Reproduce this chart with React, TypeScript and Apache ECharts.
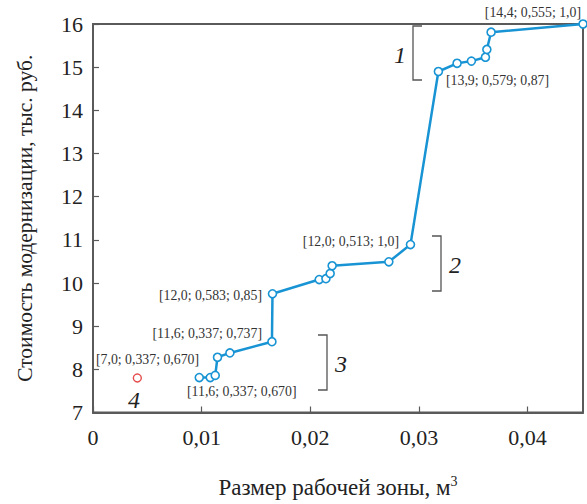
import React, { useEffect, useRef } from "react";
import * as echarts from "echarts";

const sizeValues = [0.00978, 0.01079, 0.01125, 0.01146, 0.0126, 0.01647, 0.01652, 0.02082, 0.02144, 0.02183, 0.02201, 0.02723, 0.02922, 0.03179, 0.03351, 0.03483, 0.03612, 0.03625, 0.03664, 0.0451];
const costValues = [7.81, 7.81, 7.86, 8.28, 8.38, 8.64, 9.75, 10.08, 10.1, 10.22, 10.4, 10.49, 10.89, 14.9, 15.09, 15.14, 15.23, 15.41, 15.81, 16.0];
const outlierPoint = [0.00408, 7.8];
const xTicks = [0, 0.01, 0.02, 0.03, 0.04];
const yTicks = [7, 8, 9, 10, 11, 12, 13, 14, 15, 16];

const FONT = "'Liberation Serif', 'Times New Roman', serif";
const AXIS_COLOR = "#5a5a5a";
const BLUE = "#1894d4";

export default function App() {
  const ref = useRef<HTMLDivElement>(null);
  useEffect(() => {
    if (!ref.current) return;
    const chart = echarts.init(ref.current, undefined, { renderer: "svg" });
    const txt = (text: string, x: number, y: number, opts: any = {}) => ({
      type: "text",
      x,
      y,
      style: {
        text,
        fontFamily: FONT,
        fontSize: 13.8,
        fill: "#333",
        textAlign: "left",
        textVerticalAlign: "middle",
        ...opts,
      },
    });
    const bracket = (x: number, y1: number, y2: number, dir: number) => ({
      type: "polyline",
      shape: { points: [[x + dir * 9, y1], [x, y1], [x, y2], [x + dir * 9, y2]] },
      style: { stroke: "#555", lineWidth: 1.3, fill: "none" },
    });
    chart.setOption({
      animation: false,
      grid: { left: 93, right: 4, top: 24, bottom: 91, show: true, borderColor: AXIS_COLOR, borderWidth: 2 },
      xAxis: {
        type: "value",
        min: xTicks[0],
        max: 0.0451,
        interval: 0.01,
        splitLine: { show: false },
        axisLine: { show: true, onZero: false, lineStyle: { color: AXIS_COLOR, width: 2 } },
        axisTick: { show: true, inside: true, length: 6, lineStyle: { color: AXIS_COLOR, width: 1.2 } },
        axisLabel: {
          color: "#222",
          fontFamily: FONT,
          fontSize: 22,
          margin: 14,
          showMaxLabel: false,
          formatter: (v: number) => (xTicks.some((t) => Math.abs(t - v) < 1e-9) ? (v === 0 ? "0" : v.toFixed(2).replace(".", ",")) : ""),
        },
        name: "{t|Размер рабочей зоны, м}{s|3}",
        nameLocation: "middle",
        nameGap: 62,
        nameTextStyle: {
          rich: {
            t: { fontFamily: FONT, fontSize: 23, color: "#222" },
            s: { fontFamily: FONT, fontSize: 14, color: "#222", verticalAlign: "top", padding: [0, 0, 12, 0] },
          },
        },
      },
      yAxis: {
        type: "value",
        min: yTicks[0],
        max: yTicks[yTicks.length - 1],
        interval: 1,
        splitLine: { show: false },
        axisLine: { show: true, lineStyle: { color: AXIS_COLOR, width: 2 } },
        axisTick: { show: true, inside: true, length: 6, lineStyle: { color: AXIS_COLOR, width: 1.2 } },
        axisLabel: { color: "#222", fontFamily: FONT, fontSize: 22, margin: 10 },
        name: "Стоимость модернизации, тыс. руб.",
        nameLocation: "middle",
        nameGap: 57,
        nameTextStyle: { fontFamily: FONT, fontSize: 21.5, color: "#222" },
      },
      series: [
        {
          type: "line",
          data: sizeValues.map((x, i) => [x, costValues[i]]),
          symbol: "circle",
          symbolSize: 8,
          showAllSymbol: true,
          lineStyle: { color: BLUE, width: 2.5 },
          itemStyle: { color: "#fff", borderColor: BLUE, borderWidth: 1.6 },
          z: 3,
        },
        {
          type: "scatter",
          data: [outlierPoint],
          symbol: "circle",
          symbolSize: 8,
          itemStyle: { color: "#fff", borderColor: "#e02020", borderWidth: 1.4 },
        },
      ],
      graphic: [
        txt("[14,4; 0,555; 1,0]", 581, 12, { textAlign: "right" }),
        txt("[13,9; 0,579; 0,87]", 446, 80),
        txt("[12,0; 0,513; 1,0]", 399, 241, { textAlign: "right" }),
        txt("[12,0; 0,583; 0,85]", 262, 295, { textAlign: "right" }),
        txt("[11,6; 0,337; 0,737]", 262, 333, { textAlign: "right" }),
        txt("[7,0; 0,337; 0,670]", 96, 359),
        txt("[11,6; 0,337; 0,670]", 187, 391),
        bracket(413, 26, 80, 1),
        bracket(441, 236, 291, -1),
        bracket(327, 335, 390, -1),
        txt("1", 400, 55, { fontSize: 24, fontStyle: "italic", textAlign: "center", fill: "#222" }),
        txt("2", 455, 265, { fontSize: 24, fontStyle: "italic", textAlign: "center", fill: "#222" }),
        txt("3", 341, 364, { fontSize: 24, fontStyle: "italic", textAlign: "center", fill: "#222" }),
        txt("4", 134, 400, { fontSize: 24, fontStyle: "italic", textAlign: "center", fill: "#222" }),
      ],
    });
    return () => chart.dispose();
  }, []);
  return <div ref={ref} style={{ width: 587, height: 504, position: "absolute", left: 0, top: 0 }} />;
}
